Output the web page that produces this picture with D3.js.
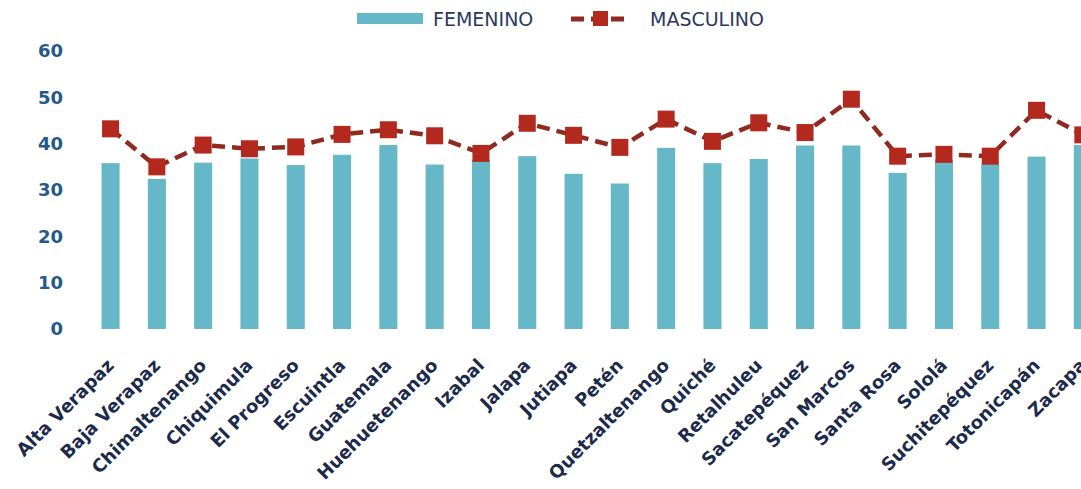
<!DOCTYPE html>
<html><head><meta charset="utf-8">
<script src="https://cdn.jsdelivr.net/npm/d3@7"></script>
<style>
html,body{margin:0;padding:0;background:#fff;}
svg{display:block;}
</style></head>
<body>
<svg id="chart" width="1081" height="489"></svg>
<script>
const categories = ["Alta Verapaz","Baja Verapaz","Chimaltenango","Chiquimula","El Progreso","Escuintla","Guatemala","Huehuetenango","Izabal","Jalapa","Jutiapa","Petén","Quetzaltenango","Quiché","Retalhuleu","Sacatepéquez","San Marcos","Santa Rosa","Sololá","Suchitepéquez","Totonicapán","Zacapa"];
const femenino = [35.8,32.4,35.9,36.8,35.4,37.6,39.7,35.5,36.5,37.3,33.5,31.4,39.1,35.8,36.7,39.6,39.6,33.7,36.5,35.6,37.2,39.7];
const masculino = [43.2,35.0,39.7,38.9,39.3,42.0,43.0,41.7,37.9,44.4,41.8,39.2,45.3,40.5,44.5,42.4,49.6,37.3,37.7,37.3,47.2,41.9];
const yTicks = [0,10,20,30,40,50,60];
const seriesNames = ["FEMENINO","MASCULINO"];

const svg = d3.select("#chart");
const step = 46.3, x0 = 87.4;
const x = d3.scaleBand().domain(categories).range([x0, x0 + categories.length*step]).paddingInner(0.61).paddingOuter(0.305);
const y = d3.scaleLinear().domain([0,60]).range([329,51]);

const barColor = "#66b7c7", lineColor = "#8f2a20", markColor = "#b3291d";
const axisBlue = "#24598a", labelNavy = "#1c2b4b";

// y axis
const ya = svg.append("g").attr("transform","translate(66,0)")
  .call(d3.axisLeft(y).tickValues(yTicks).tickSize(0).tickPadding(3));
ya.select(".domain").remove();
ya.selectAll("text").attr("fill",axisBlue).style("font-family","DejaVu Sans").style("font-weight","bold").style("font-size","18px");

// x axis
const xa = svg.append("g").attr("transform","translate(0,329)")
  .call(d3.axisBottom(x).tickSize(0));
xa.select(".domain").remove();
xa.selectAll("text").attr("x",0).attr("y",0).attr("dy","0.35em").attr("text-anchor","end")
  .attr("transform","translate(0,33) rotate(-45)")
  .attr("fill",labelNavy).style("font-family","DejaVu Sans").style("font-weight","bold").style("font-size","18px");

// bars
svg.append("g").selectAll("rect").data(categories).join("rect")
  .attr("x",d=>x(d)).attr("width",x.bandwidth())
  .attr("y",(d,i)=>y(femenino[i])).attr("height",(d,i)=>y(0)-y(femenino[i]))
  .attr("fill",barColor);

// line
const cx = d=>x(d)+x.bandwidth()/2;
const line = d3.line().x((d,i)=>cx(categories[i])).y(d=>y(d));
svg.append("path").datum(masculino).attr("d",line).attr("fill","none")
  .attr("stroke",lineColor).attr("stroke-width",4.5).attr("stroke-dasharray","13,7");
const ms = 17;
svg.append("g").selectAll("rect").data(masculino).join("rect")
  .attr("x",(d,i)=>cx(categories[i])-ms/2).attr("y",d=>y(d)-ms/2)
  .attr("width",ms).attr("height",ms).attr("fill",markColor);

// legend
const lg = svg.append("g");
lg.append("rect").attr("x",357).attr("y",13).attr("width",66).attr("height",11).attr("fill",barColor);
lg.append("text").attr("x",433).attr("y",26).text(seriesNames[0])
  .attr("fill","#2a3a5e").style("font-family","DejaVu Sans").style("font-size","19px");
lg.append("line").attr("x1",571).attr("x2",631).attr("y1",19).attr("y2",19)
  .attr("stroke",lineColor).attr("stroke-width",5).attr("stroke-dasharray","13,7");
lg.append("rect").attr("x",593).attr("y",11).attr("width",15).attr("height",15).attr("fill",markColor);
lg.append("text").attr("x",650).attr("y",26).text(seriesNames[1])
  .attr("fill","#2a3a5e").style("font-family","DejaVu Sans").style("font-size","19px");
</script>
</body></html>
